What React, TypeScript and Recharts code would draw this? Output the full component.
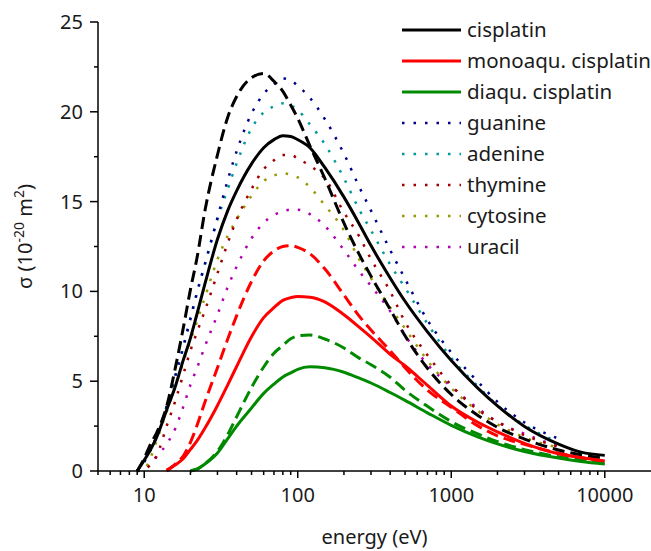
import React from 'react';
import { LineChart, Line, XAxis, YAxis, Legend, Label } from 'recharts';

const energies = [9, 10, 11, 12, 14, 16, 18, 20, 22, 25, 30, 35, 40, 50, 60, 70, 80, 90, 100, 120, 150, 200, 250, 300, 400, 500, 700, 1000, 1500, 2000, 3000, 5000, 7000, 10000];

const cisplatin = [0, 0.6, 1.2, 1.85, 3.4, 4.75, 6.2, 7.4, 8.7, 10.5, 12.9, 14.5, 15.6, 17.1, 18.0, 18.45, 18.67, 18.62, 18.45, 18.0, 16.9, 15.25, 13.8, 12.55, 10.75, 9.45, 7.75, 6.15, 4.59, 3.63, 2.48, 1.5, 1.05, 0.87];
const cisplatinAlt = [0, 0.7, 1.5, 2.1, 3.6, 5.8, 8.0, 10.1, 11.8, 14.6, 17.6, 19.7, 20.85, 21.9, 22.14, 21.7, 21.14, 20.37, 19.64, 18.1, 16.3, 13.8, 12.1, 10.85, 9.0, 7.53, 5.72, 4.26, 3.08, 2.43, 1.78, 1.17, 0.9, 0.71];
const monoaqu = [null, null, null, null, 0.05, 0.35, 0.7, 1.2, 1.66, 2.42, 3.65, 4.8, 5.82, 7.48, 8.54, 9.1, 9.5, 9.65, 9.72, 9.68, 9.42, 8.7, 8.03, 7.46, 6.5, 5.86, 4.77, 3.62, 2.7, 2.18, 1.54, 0.96, 0.75, 0.56];
const monoaquAlt = [null, null, null, null, 0, 0.4, 0.85, 1.6, 2.5, 3.9, 5.75, 7.35, 8.65, 10.55, 11.7, 12.25, 12.5, 12.55, 12.45, 12.1, 11.26, 9.8, 8.65, 7.85, 6.7, 5.75, 4.5, 3.55, 2.5, 1.96, 1.48, 0.99, 0.75, 0.52];
const diaqu = [null, null, null, null, null, null, null, 0, 0.1, 0.4, 1.0, 1.8, 2.5, 3.51, 4.32, 4.84, 5.24, 5.46, 5.66, 5.8, 5.75, 5.5, 5.18, 4.9, 4.37, 3.93, 3.24, 2.54, 1.89, 1.51, 1.09, 0.72, 0.53, 0.39];
const diaquAlt = [null, null, null, null, null, null, null, 0, 0.1, 0.42, 1.1, 2.03, 3.02, 4.65, 5.79, 6.56, 6.99, 7.36, 7.52, 7.57, 7.35, 6.85, 6.3, 5.92, 5.22, 4.5, 3.6, 2.75, 2.05, 1.64, 1.19, 0.79, 0.62, 0.43];
const guanine = [0, 0.5, 1.2, 1.86, 3.6, 5.37, 6.95, 8.48, 9.88, 11.6, 14.1, 16.2, 17.8, 19.9, 21.0, 21.55, 21.86, 21.75, 21.45, 20.78, 19.6, 17.66, 15.87, 14.5, 12.3, 10.7, 8.4, 6.6, 4.95, 3.85, 2.7, 1.8, null, null];
const adenine = [0, 0.5, 1.15, 1.9, 3.6, 5.3, 6.9, 8.5, 9.9, 11.6, 14.0, 15.7, 17.13, 19.08, 19.96, 20.3, 20.47, 20.35, 20.1, 19.3, 18.2, 16.3, 14.6, 13.4, 11.5, 10.2, 8.2, 6.3, 4.7, 3.65, 2.55, 1.6, null, null];
const thymine = [0, 0.1, 0.35, 0.8, 2.5, 3.95, 5.4, 6.7, 7.7, 9.0, 11.0, 12.7, 14.0, 15.7, 16.8, 17.3, 17.6, 17.6, 17.4, 17.0, 16.3, 14.4, 13.1, 11.8, 10.0, 8.3, 6.45, 4.78, 3.39, 2.75, 1.99, 1.35, null, null];
const cytosine = [0, 0.1, 0.74, 1.65, 3.3, 4.76, 6.08, 7.26, 8.3, 9.74, 11.78, 13.1, 14.0, 15.33, 16.14, 16.45, 16.57, 16.5, 16.35, 15.8, 14.8, 13.4, 11.83, 10.74, 9.11, 7.93, 6.15, 4.62, 3.33, 2.6, 1.87, 1.3, null, null];
const uracil = [0, 0.05, 0.4, 0.8, 1.5, 2.4, 3.6, 4.8, 5.7, 7.0, 8.7, 10.25, 11.38, 12.95, 13.82, 14.25, 14.45, 14.55, 14.55, 14.3, 13.65, 12.3, 11.15, 10.3, 8.9, 7.55, 5.94, 4.7, 3.47, 2.72, 2.07, 1.35, null, null];

const xMajorTicks = [10, 100, 1000, 10000];
const xAllTicks = [5, 6, 7, 8, 9, 10, 20, 30, 40, 50, 60, 70, 80, 90, 100, 200, 300, 400, 500, 600, 700, 800, 900, 1000, 2000, 3000, 4000, 5000, 6000, 7000, 8000, 9000, 10000];
const yAllTicks = [0, 2.5, 5, 7.5, 10, 12.5, 15, 17.5, 20, 22.5, 25];

type Style = 'solid' | 'dashed' | 'dotted';
interface SeriesDef { key: string; name: string; color: string; values: (number | null)[]; style: Style; legend: boolean; }

const series: SeriesDef[] = [
  { key: 'uracil', name: 'uracil', color: '#b000b0', values: uracil, style: 'dotted', legend: true },
  { key: 'cytosine', name: 'cytosine', color: '#999900', values: cytosine, style: 'dotted', legend: true },
  { key: 'thymine', name: 'thymine', color: '#a00000', values: thymine, style: 'dotted', legend: true },
  { key: 'adenine', name: 'adenine', color: '#009a9a', values: adenine, style: 'dotted', legend: true },
  { key: 'guanine', name: 'guanine', color: '#00008b', values: guanine, style: 'dotted', legend: true },
  { key: 'diaquAlt', name: 'diaqu. cisplatin (2)', color: '#008a00', values: diaquAlt, style: 'dashed', legend: false },
  { key: 'monoaquAlt', name: 'monoaqu. cisplatin (2)', color: '#ff0000', values: monoaquAlt, style: 'dashed', legend: false },
  { key: 'cisplatinAlt', name: 'cisplatin (2)', color: '#000000', values: cisplatinAlt, style: 'dashed', legend: false },
  { key: 'diaqu', name: 'diaqu. cisplatin', color: '#008a00', values: diaqu, style: 'solid', legend: true },
  { key: 'monoaqu', name: 'monoaqu. cisplatin', color: '#ff0000', values: monoaqu, style: 'solid', legend: true },
  { key: 'cisplatin', name: 'cisplatin', color: '#000000', values: cisplatin, style: 'solid', legend: true },
];

const legendOrder = ['cisplatin', 'monoaqu', 'diaqu', 'guanine', 'adenine', 'thymine', 'cytosine', 'uracil'];

const data = energies.map((e, i) => {
  const row: Record<string, number | null> = { energy: e };
  series.forEach((s) => { row[s.key] = s.values[i]; });
  return row;
});

const dashFor = (s: Style) => (s === 'dashed' ? '12 6' : s === 'dotted' ? '2.5 9' : undefined);
const widthFor = (s: Style) => (s === 'dotted' ? 2.5 : 3);

const FONT = "'Noto Sans', sans-serif";
const TEXT = '#1a1a1a';

const XTick = (props: any) => {
  const { x, y, payload } = props;
  const v = payload.value;
  const major = xMajorTicks.includes(v);
  return (
    <g>
      <line x1={x} y1={y} x2={x} y2={y + (major ? 7 : 4)} stroke="#000" strokeWidth={1.5} />
      {major && (
        <text x={x} y={y + 31} textAnchor="middle" fontSize={20} fontFamily={FONT} fill={TEXT}>{v}</text>
      )}
    </g>
  );
};

const YTick = (props: any) => {
  const { x, y, payload } = props;
  const v = payload.value;
  const major = v % 5 === 0;
  return (
    <g>
      <line x1={x - (major ? 8 : 4)} y1={y} x2={x} y2={y} stroke="#000" strokeWidth={1.5} />
      {major && (
        <text x={x - 15} y={y + 7} textAnchor="end" fontSize={20} fontFamily={FONT} fill={TEXT}>{v}</text>
      )}
    </g>
  );
};

const YTitle = (props: any) => {
  const vb = props.viewBox || { y: 22, height: 449 };
  const cx = 32;
  const cy = vb.y + vb.height / 2 - 10;
  return (
    <text transform={`translate(${cx},${cy}) rotate(-90)`} textAnchor="middle" fontSize={20} fontFamily={FONT} fill={TEXT}>
      <tspan>σ (10</tspan>
      <tspan fontSize={14} dy={-8}>-20</tspan>
      <tspan dy={8}> m</tspan>
      <tspan fontSize={14} dy={-8}>2</tspan>
      <tspan dy={8}>)</tspan>
    </text>
  );
};

const XTitle = (props: any) => {
  const vb = props.viewBox || { x: 98, width: 553, y: 471 };
  return (
    <text x={vb.x + vb.width / 2} y={544} textAnchor="middle" fontSize={20} fontFamily={FONT} fill={TEXT}>energy (eV)</text>
  );
};

const renderLegend = () => {
  const items = legendOrder.map((k) => series.find((s) => s.key === k)!);
  return (
    <svg width={250} height={250} style={{ display: 'block' }}>
      {items.map((s, i) => {
        const cy = 16 + i * 31;
        return (
          <g key={s.key}>
            <line x1={2} x2={61} y1={cy} y2={cy} stroke={s.color} strokeWidth={widthFor(s.style)} strokeDasharray={dashFor(s.style)} />
            <text x={67} y={cy + 7} fontSize={20.5} fontFamily={FONT} fill={TEXT}>{s.name}</text>
          </g>
        );
      })}
    </svg>
  );
};

export default function App() {
  return (
    <div style={{ position: 'absolute', left: 0, top: 0, width: 651, height: 551, background: '#fff' }}>
      <LineChart width={651} height={551} data={data} margin={{ top: 22, right: 0, bottom: 0, left: 0 }}>
        <XAxis
          dataKey="energy"
          type="number"
          scale="log"
          domain={[5, 20000]}
          allowDataOverflow
          ticks={xAllTicks}
          interval={0}
          tick={<XTick />}
          tickLine={false}
          tickSize={0}
          tickMargin={0}
          height={80}
          axisLine={{ stroke: '#000', strokeWidth: 1.5 }}
        >
          <Label content={<XTitle />} />
        </XAxis>
        <YAxis
          type="number"
          domain={[0, 25]}
          ticks={yAllTicks}
          interval={0}
          tick={<YTick />}
          tickLine={false}
          tickSize={0}
          tickMargin={0}
          width={98}
          axisLine={{ stroke: '#000', strokeWidth: 1.5 }}
        >
          <Label content={<YTitle />} />
        </YAxis>
        <Legend
          layout="vertical"
          align="center"
          verticalAlign="middle"
          content={renderLegend}
          wrapperStyle={{ left: 400, top: 14, width: 250, height: 250, right: 'auto', bottom: 'auto' }}
        />
        {series.map((s) => (
          <Line
            key={s.key}
            dataKey={s.key}
            name={s.name}
            type="monotone"
            stroke={s.color}
            strokeWidth={widthFor(s.style)}
            strokeDasharray={dashFor(s.style)}
            dot={false}
            activeDot={false}
            isAnimationActive={false}
            connectNulls={false}
          />
        ))}
      </LineChart>
    </div>
  );
}
